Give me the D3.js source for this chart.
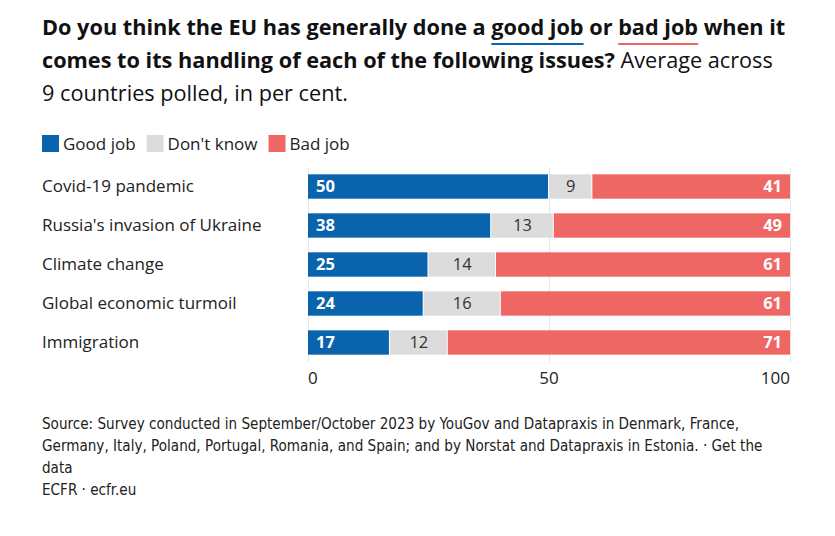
<!DOCTYPE html>
<html>
<head>
<meta charset="utf-8">
<script src="https://cdn.jsdelivr.net/npm/d3@7"></script>
<style>
  body { margin: 0; background: #fff; }
  svg { display: block; }
</style>
</head>
<body>
<div id="chart"></div>
<script>
const categories = ["Covid-19 pandemic", "Russia's invasion of Ukraine", "Climate change", "Global economic turmoil", "Immigration"]
const goodJob = [50, 38, 25, 24, 17]
const dontKnow = [9, 13, 14, 16, 12]
const badJob = [41, 49, 61, 61, 71]
const seriesNames = ["Good job", "Don't know", "Bad job"]
const xTicks = [0, 50, 100]

const width = 835, height = 536
const font = "'Open Sans', Lato, sans-serif"
const colors = ["#0a64ad", "#dcdcdc", "#ef6764"]

const svg = d3.select('#chart').append('svg')
    .attr('width', width)
    .attr('height', height)
    .style('font-family', font)

// title
const title = svg.append('text')
    .attr('x', 42)
    .attr('y', 35)
    .attr('font-size', 21.7)
    .attr('fill', '#111')

const t1 = title.append('tspan').attr('font-weight', 700)
t1.append('tspan').text('Do you think the EU has generally done a ')
t1.append('tspan').attr('class', 'good').text('good job')
t1.append('tspan').text(' or ')
t1.append('tspan').attr('class', 'bad').text('bad job')
t1.append('tspan').text(' when it')

title.append('tspan').attr('x', 42).attr('dy', 33).attr('font-weight', 700)
    .text('comes to its handling of each of the following issues?')
title.append('tspan').text(' Average across')
title.append('tspan').attr('x', 42).attr('dy', 33).text('9 countries polled, in per cent.')

// underline good / bad job
;[['.good', colors[0]], ['.bad', colors[2]]].forEach(([sel, c]) => {
    const node = svg.select(sel).node()
    const n = node.getNumberOfChars()
    const start = node.getStartPositionOfChar(0)
    const end = node.getEndPositionOfChar(n - 1)
    svg.append('line')
        .attr('x1', start.x).attr('x2', end.x)
        .attr('y1', 44).attr('y2', 44)
        .attr('stroke', c)
        .attr('stroke-width', 2)
})

// legend
const legend = svg.append('g').attr('transform', 'translate(42,135)')
let lx = 0
seriesNames.forEach((name, i) => {
    const g = legend.append('g').attr('transform', `translate(${lx},0)`)
    g.append('rect').attr('width', 17).attr('height', 17).attr('fill', colors[i])
    const t = g.append('text')
        .attr('x', 21).attr('y', 14.5)
        .attr('font-size', 17)
        .attr('fill', '#222')
        .text(name)
    lx += 21 + t.node().getComputedTextLength() + 11
})

// scales
const x = d3.scaleLinear().domain([0, 100]).range([308, 790]).clamp(true)
const y = d3.scaleBand().domain(categories).range([167, 362]).paddingInner(0.375).paddingOuter(0.1875)

// grid
svg.append('g')
    .selectAll('line')
    .data(xTicks)
    .join('line')
    .attr('x1', d => x(d) + 0.5).attr('x2', d => x(d) + 0.5)
    .attr('y1', 167).attr('y2', 362)
    .attr('stroke', '#e6e6e6')

// x axis labels
svg.append('g')
    .selectAll('text')
    .data(xTicks)
    .join('text')
    .attr('x', d => x(d))
    .attr('y', 384)
    .attr('text-anchor', d => d === 0 ? 'start' : d === 100 ? 'end' : 'middle')
    .attr('font-size', 17)
    .attr('fill', '#222')
    .text(d => d)

// category labels
svg.append('g')
    .selectAll('text')
    .data(categories)
    .join('text')
    .attr('x', 42)
    .attr('y', d => y(d) + y.bandwidth() / 2)
    .attr('dy', '0.35em')
    .attr('font-size', 17)
    .attr('fill', '#222')
    .text(d => d)

// stacked bars
const rows = categories.map((c, i) => ({ cat: c, vals: [goodJob[i], dontKnow[i], badJob[i]] }))
const stackData = rows.map(r => {
    let acc = 0
    return r.vals.map((v, k) => {
        const s = { cat: r.cat, k, v, x0: acc, x1: acc + v }
        acc += v
        return s
    })
}).flat()

const bars = svg.append('g')
bars.selectAll('rect')
    .data(stackData)
    .join('rect')
    .attr('x', d => x(d.x0))
    .attr('y', d => y(d.cat))
    .attr('width', d => x(d.x1) - x(d.x0) - (d.k < 2 ? 1 : 0))
    .attr('height', y.bandwidth())
    .attr('fill', d => colors[d.k])

bars.selectAll('text')
    .data(stackData)
    .join('text')
    .attr('x', d => d.k === 0 ? x(d.x0) + 8 : d.k === 2 ? x(d.x1) - 8 : (x(d.x0) + x(d.x1)) / 2)
    .attr('y', d => y(d.cat) + y.bandwidth() / 2)
    .attr('dy', '0.36em')
    .attr('text-anchor', d => d.k === 0 ? 'start' : d.k === 2 ? 'end' : 'middle')
    .attr('font-size', 16.5)
    .attr('font-weight', d => d.k === 1 ? 400 : 700)
    .attr('fill', d => d.k === 1 ? '#333' : '#fff')
    .text(d => d.v)

// footer
const footer = [
    'Source: Survey conducted in September/October 2023 by YouGov and Datapraxis in Denmark, France,',
    'Germany, Italy, Poland, Portugal, Romania, and Spain; and by Norstat and Datapraxis in Estonia. · Get the',
    'data',
    'ECFR · ecfr.eu'
]
svg.append('g')
    .selectAll('text')
    .data(footer)
    .join('text')
    .attr('x', 42)
    .attr('y', (d, i) => 429 + i * 22)
    .attr('font-family', "'Liberation Sans Narrow', 'DejaVu Sans Condensed', sans-serif")
    .attr('font-size', 15.1)
    .attr('fill', '#222')
    .text(d => d)
</script>
</body>
</html>
